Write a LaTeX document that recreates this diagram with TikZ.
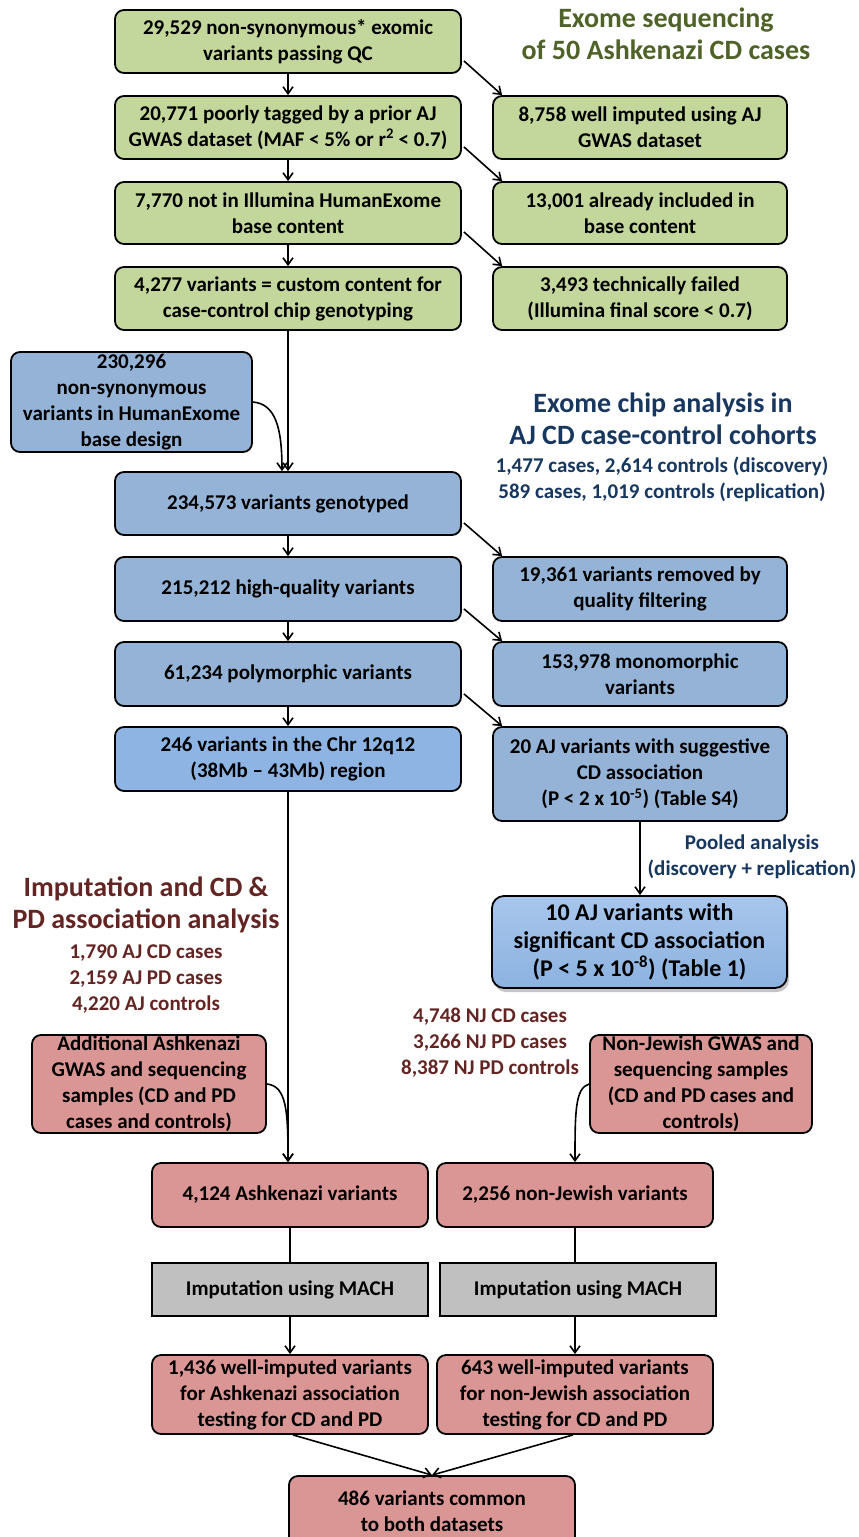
\documentclass[tikz,border=0pt]{standalone}
\usepackage{fontspec}
\setmainfont{Carlito}
\usetikzlibrary{arrows.meta,calc,shadows}
\definecolor{gfill}{RGB}{195,214,155}
\definecolor{bfill}{RGB}{149,179,215}
\definecolor{bfilltwo}{RGB}{142,180,227}
\definecolor{btop}{RGB}{168,198,236}
\definecolor{bbot}{RGB}{140,178,224}
\definecolor{rfill}{RGB}{217,150,148}
\definecolor{grfill}{RGB}{192,192,192}
\definecolor{gtext}{RGB}{79,98,40}
\definecolor{btext}{RGB}{23,55,94}
\definecolor{rtext}{RGB}{99,37,35}
\newcommand\boxat[7]{\node[#1, minimum width={#4-#2}, minimum height={#5-#3}] (#6) at ({(#2+#4)/2},{(#3+#5)/2}) {#7};}
\begin{document}
\begin{tikzpicture}[x=1pt,y=-1pt,
  base/.style={draw=black, line width=1.8pt, align=center, inner sep=1pt,
    font=\fontsize{21}{26}\selectfont\bfseries},
  gbox/.style={base, fill=gfill, rounded corners=9pt},
  bbox/.style={base, fill=bfill, rounded corners=9pt},
  bboxtwo/.style={base, fill=bfilltwo, rounded corners=9pt},
  bigbox/.style={base, rounded corners=12pt, top color=btop, bottom color=bbot,
    font=\fontsize{24}{28}\selectfont\bfseries,
    drop shadow={shadow xshift=2pt, shadow yshift=-4pt, opacity=0.45}},
  rbox/.style={base, fill=rfill, rounded corners=9pt},
  mbox/.style={base, fill=grfill, rounded corners=0pt},
  arr/.style={line width=1.6pt, -{Straight Barb[length=7pt,width=10pt,line width=1.6pt]}},
  ln/.style={line width=1.6pt},
  title/.style={align=center, font=\fontsize{28}{32}\selectfont\bfseries},
  sub/.style={align=center, font=\fontsize{21}{26}\selectfont\bfseries},
]
\useasboundingbox (0,0) rectangle (859,1537);

% green
\boxat{gbox}{115}{10}{461}{73}{g1}{29,529 non-synonymous* exomic\\variants passing QC}
\boxat{gbox}{115}{96}{461}{159}{g2}{20,771 poorly tagged by a prior AJ\\GWAS dataset (MAF < 5\% or r\textsuperscript{2} < 0.7)}
\boxat{gbox}{115}{182}{461}{244}{g3}{7,770 not in Illumina HumanExome\\base content}
\boxat{gbox}{115}{267}{461}{330}{g4}{4,277 variants = custom content for\\case-control chip genotyping}
\boxat{gbox}{493}{96}{787}{159}{gr1}{8,758 well imputed using AJ\\GWAS dataset}
\boxat{gbox}{493}{182}{787}{244}{gr2}{13,001 already included in\\base content}
\boxat{gbox}{493}{267}{787}{330}{gr3}{3,493 technically failed\\(Illumina final score < 0.7)}
\node[title, text=gtext] (tg) at (666,34) {Exome sequencing\\of 50 Ashkenazi CD cases};

% blue
\boxat{bbox}{11}{352}{252}{452}{hx}{230,296\\non-synonymous\\variants in HumanExome\\base design}
\boxat{bbox}{115}{472}{461}{535}{b1}{234,573 variants genotyped}
\boxat{bbox}{115}{557}{461}{621}{b2}{215,212 high-quality variants}
\boxat{bbox}{115}{642}{461}{706}{b3}{61,234 polymorphic variants}
\boxat{bboxtwo}{115}{727}{461}{791}{b4}{246 variants in the Chr 12q12\\(38Mb -- 43Mb) region}
\boxat{bbox}{493}{557}{787}{621}{br1}{19,361 variants removed by\\quality filtering}
\boxat{bbox}{493}{642}{787}{706}{br2}{153,978 monomorphic\\variants}
\boxat{bbox}{493}{727}{787}{821}{br3}{20 AJ variants with suggestive\\CD association\\(P < 2 x 10\textsuperscript{-5}) (Table S4)}
\boxat{bigbox}{492}{896}{787}{988}{sig}{10 AJ variants with\\significant CD association\\(P < 5 x 10\textsuperscript{-8}) (Table 1)}
\node[title, text=btext] (tb) at (663,419) {Exome chip analysis in\\AJ CD case-control cohorts};
\node[sub, text=btext] (tbs) at (662,479) {1,477 cases, 2,614 controls (discovery)\\589 cases, 1,019 controls (replication)};
\node[sub, text=btext] (pool) at (752,857) {Pooled analysis\\(discovery + replication)};

% red
\node[title, text=rtext] (tr) at (146,905) {Imputation and CD \&\\PD association analysis};
\node[sub, text=rtext] (trs) at (146,979) {1,790 AJ CD cases\\2,159 AJ PD cases\\4,220 AJ controls};
\node[sub, text=rtext] (tnj) at (490,1043) {4,748 NJ CD cases\\3,266 NJ PD cases\\8,387 NJ PD controls};
\boxat{rbox}{32}{1035}{266}{1133}{add}{Additional Ashkenazi\\GWAS and sequencing\\samples (CD and PD\\cases and controls)}
\boxat{rbox}{590}{1035}{812}{1133}{nj}{Non-Jewish GWAS and\\sequencing samples\\(CD and PD cases and\\controls)}
\boxat{rbox}{152}{1163}{428}{1227}{a1}{4,124 Ashkenazi variants}
\boxat{rbox}{437}{1163}{713}{1227}{n1}{2,256 non-Jewish variants}
\boxat{mbox}{152}{1263}{428}{1316}{am}{Imputation using MACH}
\boxat{mbox}{440}{1263}{716}{1316}{nm}{Imputation using MACH}
\boxat{rbox}{152}{1355}{428}{1434}{a2}{1,436 well-imputed variants\\for Ashkenazi association\\testing for CD and PD}
\boxat{rbox}{437}{1355}{713}{1434}{n2}{643 well-imputed variants\\for non-Jewish association\\testing for CD and PD}
\boxat{rbox}{289}{1476}{575}{1546}{fin}{486 variants common\\to both datasets}

% connectors
\draw[arr] (g1) -- (g2);
\draw[arr] (g2) -- (g3);
\draw[arr] (g3) -- (g4);
\draw[arr] ($(g1.south east)+(2,-13)$) -- ($(gr1.north west)+(10,0)$);
\draw[arr] ($(g2.south east)+(2,-13)$) -- ($(gr2.north west)+(10,0)$);
\draw[arr] ($(g3.south east)+(2,-13)$) -- ($(gr3.north west)+(10,0)$);
\draw[arr] (g4) -- (b1);
\draw[arr] (hx.east) .. controls +(22,2) and +(0,-45) .. ($(b1.north)+(-6,0)$);
\draw[arr] (b1) -- (b2);
\draw[arr] (b2) -- (b3);
\draw[arr] (b3) -- (b4);
\draw[arr] ($(b1.south east)+(2,-13)$) -- ($(br1.north west)+(10,0)$);
\draw[arr] ($(b2.south east)+(2,-13)$) -- ($(br2.north west)+(10,0)$);
\draw[arr] ($(b3.south east)+(2,-13)$) -- ($(br3.north west)+(10,0)$);
\draw[arr] (br3.south) -- (br3.south |- sig.north);
\draw[arr] (b4.south) -- (b4.south |- a1.north);
\draw[arr] (add.east) .. controls +(20,2) and +(0,-50) .. (b4.south |- a1.north);
\draw[arr] (nj.west) .. controls +(-14,4) and +(0,-50) .. (n1.north);
\draw[ln] (a1) -- (am);
\draw[ln] (n1.south) -- (n1.south |- nm.north);
\draw[arr] (am) -- (a2);
\draw[arr] (n1.south |- nm.south) -- (n2.north);
\draw[arr] ($(a2.south)+(3,0)$) -- (fin.north);
\draw[arr] ($(n2.south)+(-2,0)$) -- (fin.north);
\end{tikzpicture}
\end{document}
